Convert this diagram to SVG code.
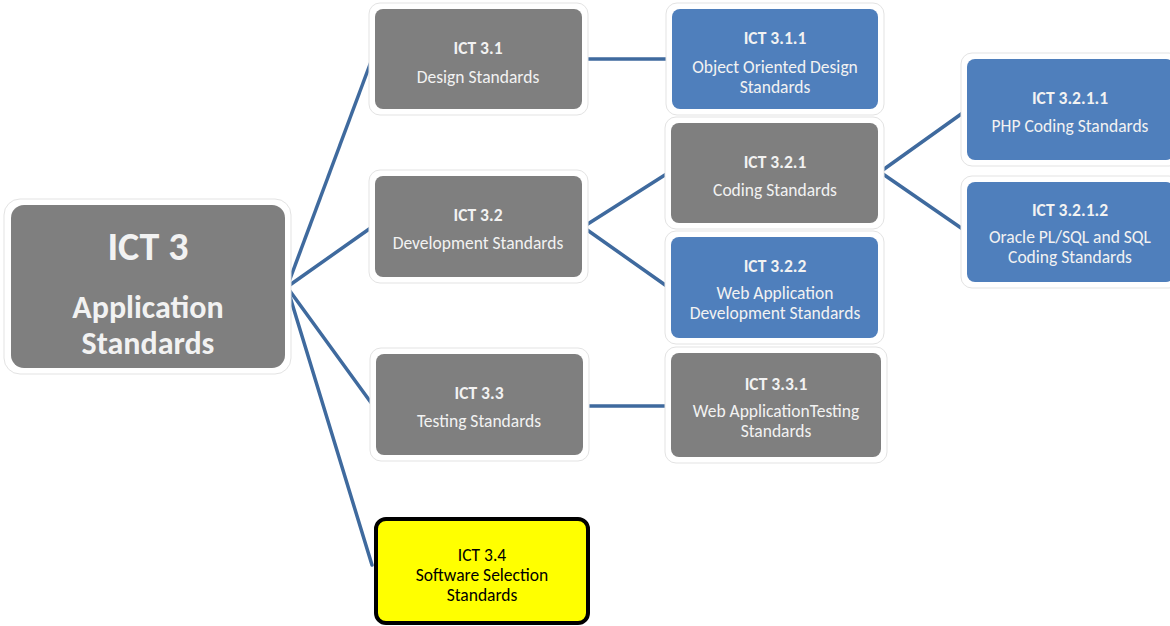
<svg xmlns="http://www.w3.org/2000/svg" width="1170" height="626" viewBox="0 0 1170 626">
<style>
.halo{fill:#ffffff;stroke:#e3e3e3;stroke-width:1}
.gray{fill:#7f7f7f}
.blue{fill:#4f7fbc}
.yellow{fill:#ffff00;stroke:#000000;stroke-width:4}
text{font-family:Carlito,Lato,"Open Sans",sans-serif;text-anchor:middle;fill:#f2f2f2}
.t{font-size:17.5px;font-weight:bold}
.s{font-size:17.5px}
.dark{fill:#000000}
.conn{stroke:#3f6a9e;stroke-width:3.5;fill:none;stroke-linecap:round}
</style>
<rect width="1170" height="626" fill="#ffffff"/>
<g id="connectors">
<line class="conn" x1="287" y1="287" x2="372" y2="59"/>
<line class="conn" x1="287" y1="287" x2="372" y2="227"/>
<line class="conn" x1="287" y1="287" x2="372" y2="404"/>
<line class="conn" x1="287" y1="287" x2="372" y2="565"/>
<line class="conn" x1="582" y1="59" x2="669" y2="59"/>
<line class="conn" x1="583" y1="227" x2="668" y2="173"/>
<line class="conn" x1="583" y1="227" x2="668" y2="287"/>
<line class="conn" x1="880" y1="172" x2="964" y2="112"/>
<line class="conn" x1="880" y1="172" x2="964" y2="230"/>
<line class="conn" x1="583" y1="406" x2="669" y2="406"/>
</g>
<g id="ict3">
<rect class="halo" x="4" y="199" width="287" height="175" rx="16"/>
<rect class="gray" x="11" y="205" width="274" height="163" rx="13"/>
<text x="148" y="260" style="font-size:40px;font-weight:bold">ICT 3</text>
<text x="148" y="318" style="font-size:32px;font-weight:bold">Application</text>
<text x="148" y="354" style="font-size:32px;font-weight:bold">Standards</text>
</g>
<g id="ict31">
<rect class="halo" x="369" y="3" width="219" height="112" rx="11"/>
<rect class="gray" x="375" y="9" width="207" height="100" rx="8"/>
<text class="t" x="478" y="54">ICT 3.1</text>
<text class="s" x="478" y="83">Design Standards</text>
</g>
<g id="ict311">
<rect class="halo" x="666" y="3" width="218" height="112" rx="11"/>
<rect class="blue" x="672" y="9" width="206" height="100" rx="8"/>
<text class="t" x="775" y="44">ICT 3.1.1</text>
<text class="s" x="775" y="73">Object Oriented Design</text>
<text class="s" x="775" y="93">Standards</text>
</g>
<g id="ict32">
<rect class="halo" x="369" y="170" width="219" height="113" rx="11"/>
<rect class="gray" x="375" y="176" width="207" height="101" rx="8"/>
<text class="t" x="478" y="221">ICT 3.2</text>
<text class="s" x="478" y="249">Development Standards</text>
</g>
<g id="ict321">
<rect class="halo" x="665" y="117" width="219" height="112" rx="11"/>
<rect class="gray" x="671" y="123" width="207" height="100" rx="8"/>
<text class="t" x="775" y="168">ICT 3.2.1</text>
<text class="s" x="775" y="196">Coding Standards</text>
</g>
<g id="ict322">
<rect class="halo" x="665" y="231" width="219" height="113" rx="11"/>
<rect class="blue" x="671" y="237" width="207" height="101" rx="8"/>
<text class="t" x="775" y="272">ICT 3.2.2</text>
<text class="s" x="775" y="299">Web Application</text>
<text class="s" x="775" y="319">Development Standards</text>
</g>
<g id="ict3211">
<rect class="halo" x="961" y="53" width="219" height="113" rx="11"/>
<rect class="blue" x="967" y="59" width="207" height="101" rx="8"/>
<text class="t" x="1070" y="104">ICT 3.2.1.1</text>
<text class="s" x="1070" y="132">PHP Coding Standards</text>
</g>
<g id="ict3212">
<rect class="halo" x="961" y="176" width="219" height="112" rx="11"/>
<rect class="blue" x="967" y="182" width="207" height="100" rx="8"/>
<text class="t" x="1070" y="216">ICT 3.2.1.2</text>
<text class="s" x="1070" y="243">Oracle PL/SQL and SQL</text>
<text class="s" x="1070" y="263">Coding Standards</text>
</g>
<g id="ict33">
<rect class="halo" x="370" y="348" width="219" height="113" rx="11"/>
<rect class="gray" x="376" y="354" width="207" height="101" rx="8"/>
<text class="t" x="479" y="399">ICT 3.3</text>
<text class="s" x="479" y="427">Testing Standards</text>
</g>
<g id="ict331">
<rect class="halo" x="665" y="347" width="222" height="116" rx="11"/>
<rect class="gray" x="671" y="353" width="210" height="104" rx="8"/>
<text class="t" x="776" y="390">ICT 3.3.1</text>
<text class="s" x="776" y="417">Web ApplicationTesting</text>
<text class="s" x="776" y="437">Standards</text>
</g>
<g id="ict34">
<rect class="yellow" x="376" y="519" width="212" height="104" rx="10"/>
<text class="s dark" x="482" y="561">ICT 3.4</text>
<text class="s dark" x="482" y="581">Software Selection</text>
<text class="s dark" x="482" y="601">Standards</text>
</g>
</svg>
